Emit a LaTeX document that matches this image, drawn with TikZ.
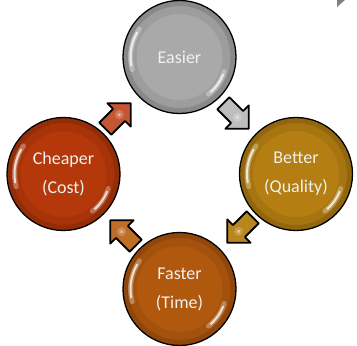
\documentclass[tikz,border=0pt]{standalone}
\usepackage{fontspec}
\setmainfont{Carlito}
\definecolor{cgray}{HTML}{A9A9A9}
\definecolor{cgold}{HTML}{B47E12}
\definecolor{cred}{HTML}{B4380A}
\definecolor{corange}{HTML}{B0580E}
\definecolor{agray}{HTML}{BDBDBD}
\definecolor{agold}{HTML}{B8861E}
\definecolor{ared}{HTML}{C65532}
\definecolor{aorange}{HTML}{BF6E2A}
\tikzset{
  ball/.style={circle, draw=black, line width=1.3pt, minimum size=113pt, inner sep=0pt,
    fill=#1, text=white!94!black, align=center,
    font=\fontsize{18}{29}\selectfont,
    path picture={
      \draw[black, opacity=.07, line width=14pt] (path picture bounding box.center) circle (50pt);
      \draw[black, opacity=.12, line width=6pt] (path picture bounding box.center) circle (54pt);
      \draw[white, opacity=.3, line width=5pt, line cap=round]
        ([shift={(145:49pt)}]path picture bounding box.center) arc[start angle=145, end angle=195, radius=49pt];
      \draw[white, opacity=.75, line width=2pt, line cap=round]
        ([shift={(150:49pt)}]path picture bounding box.center) arc[start angle=150, end angle=190, radius=49pt];
      \draw[white, opacity=.3, line width=5pt, line cap=round]
        ([shift={(-18:47pt)}]path picture bounding box.center) arc[start angle=-18, end angle=-52, radius=47pt];
      \draw[white, opacity=.75, line width=2pt, line cap=round]
        ([shift={(-22:47pt)}]path picture bounding box.center) arc[start angle=-22, end angle=-48, radius=47pt];
    }},
  blockarrow/.style={draw=black, line width=1.8pt, line join=round, fill=#1},
  spark/.style={fill=white, opacity=.45}
}
\newcommand{\cyclearrow}[5]{%
  \begin{scope}[shift={(#2,#3)}, rotate=#4]
    \coordinate (#1) at (0,0);
    \draw[blockarrow=#5] (-18,-8.5) -- (1.5,-8.5) -- (1.5,-16.5) -- (18,0) -- (1.5,16.5) -- (1.5,8.5) -- (-18,8.5) -- cycle;
    \fill[white, opacity=.2] (2,0) circle (4.5);
    \fill[spark] (2,0) circle (1.8);
  \end{scope}}
\begin{document}
\begin{tikzpicture}[x=1pt, y=1pt]
  \useasboundingbox (0,0) rectangle (357,346);
  \node[ball=cgray] (easier) at (179.5,289) {Easier};
  \node[ball=cgold] (better) at (296,172) {Better\\(Quality)};
  \node[ball=corange] (faster) at (179.5,57) {Faster\\(Time)};
  \node[ball=cred] (cheaper) at (63.5,172) {Cheaper\\(Cost)};
  \cyclearrow{aEB}{236}{230}{-45}{agray}
  \cyclearrow{aBF}{240}{116}{-135}{agold}
  \cyclearrow{aFC}{123}{113}{135}{aorange}
  \cyclearrow{aCE}{118}{230}{45}{ared}
  \fill[gray] (337,346) -- (345,346) -- (337,339) -- cycle;
\end{tikzpicture}
\end{document}
